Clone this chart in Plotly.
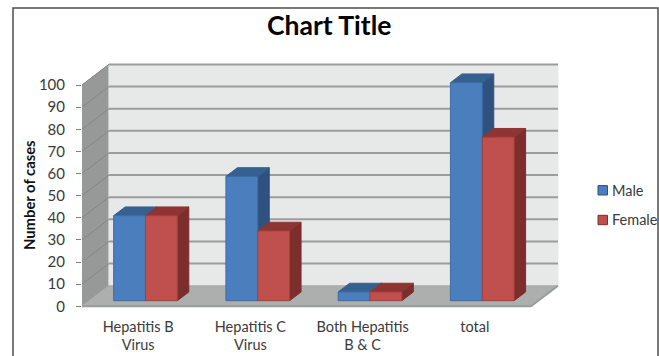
import plotly.graph_objects as go

# Case counts by infection group
categories = ["Hepatitis B<br>Virus", "Hepatitis C<br>Virus", "Both Hepatitis<br>B & C", "total"]
male = [39, 57, 4, 100]
female = [39, 32, 4, 75]
y_ticks = [0, 10, 20, 30, 40, 50, 60, 70, 80, 90, 100]

W, H = 659, 356
PL, PR, PT, PB = 82, 560, 60, 316          # plot area in pixels
FONT = "Lato"
TEXT = "#3a3a3a"

# Oblique projection: depth of the room and of each bar, in axis units
ROOM_DX, ROOM_DY = 0.24, 9.3
BAR_DX, BAR_DY = 0.1024, 4.0
BAR_W, BAR_START = 0.2835, -0.218

X_RANGE = [-0.5, 3.758]
Y_RANGE = [-4.38, 111.3]
Y_BAR_RANGE = [-7.02, 110.4]


def solid(xs, ys, fill, yaxis="y", line=None):
    return go.Scatter(x=xs, y=ys, yaxis=yaxis, mode="lines", fill="toself", fillcolor=fill,
                      line=dict(color=line or fill, width=1), hoverinfo="skip", showlegend=False)


def strokes(segments, color, width):
    xs, ys = [], []
    for (x0, y0), (x1, y1) in segments:
        xs += [x0, x1, None]
        ys += [y0, y1, None]
    return go.Scatter(x=xs, y=ys, mode="lines", line=dict(color=color, width=width),
                      hoverinfo="skip", showlegend=False)


def depth_faces(values, left, side_col, top_col, yaxis):
    """Top and right-hand faces of one series, extruded from its front face."""
    faces = []
    for i, v in enumerate(values):
        x0 = i + left
        x1 = x0 + BAR_W
        faces.append(solid([x1, x1 + BAR_DX, x1 + BAR_DX, x1, x1],
                           [0, BAR_DY, v + BAR_DY, v, 0], side_col, yaxis))
        faces.append(solid([x0, x1, x1 + BAR_DX, x0 + BAR_DX, x0],
                           [v, v, v + BAR_DY, v + BAR_DY, v], top_col, yaxis))
    return faces


x_left, x_right = X_RANGE[0], 3.5
fig = go.Figure()

# Room: side wall, back wall and floor
fig.add_trace(solid([x_left, x_left + ROOM_DX, x_left + ROOM_DX, x_left, x_left],
                    [0, ROOM_DY, 100 + ROOM_DY, 100, 0], "#979898"))
fig.add_trace(solid([x_left + ROOM_DX, x_right + ROOM_DX, x_right + ROOM_DX, x_left + ROOM_DX, x_left + ROOM_DX],
                    [ROOM_DY, ROOM_DY, 100 + ROOM_DY, 100 + ROOM_DY, ROOM_DY], "#e7e9e9"))
fig.add_trace(solid([x_left, x_right, x_right + ROOM_DX, x_left + ROOM_DX, x_left],
                    [0, 0, ROOM_DY, ROOM_DY, 0], "#adaeae"))

# Gridlines across the back wall and down the side wall
fig.add_trace(strokes([((x_left + ROOM_DX, v + ROOM_DY), (x_right + ROOM_DX, v + ROOM_DY))
                       for v in y_ticks[1:]], "#9b9d9d", 2))
fig.add_trace(strokes([((x_left, v), (x_left + ROOM_DX, v + ROOM_DY)) for v in y_ticks[1:]], "#858686", 1))
fig.add_trace(strokes([((x_left, 0), (x_right, 0)), ((x_right, 0), (x_right + ROOM_DX, ROOM_DY))], "#9a9b9b", 2))

# Stacking order: male depth faces, male fronts, female depth faces, female fronts
fig.add_traces(depth_faces(male, BAR_START, "#2f5180", "#36608f", "y2"))
xs = list(range(len(categories)))
fig.add_trace(go.Bar(x=xs, y=male, yaxis="y3", name="Male", offset=BAR_START, width=BAR_W,
                     marker=dict(color="#4b7ebd", line=dict(color="#3d6ca5", width=1)), showlegend=False))
fig.add_traces(depth_faces(female, BAR_START + BAR_W, "#7c2e2c", "#8e3432", "y3"))
fig.add_trace(go.Bar(x=xs, y=female, yaxis="y4", name="Female", offset=BAR_START + BAR_W, width=BAR_W,
                     marker=dict(color="#c0504d", line=dict(color="#a5403d", width=1)), showlegend=False))

plot_w, plot_h = PR - PL, PB - PT
px = lambda v: (v - PL) / plot_w
py = lambda v: (PB - v) / plot_h

shapes = [dict(type="rect", xref="paper", yref="paper", x0=px(13), x1=px(658), y0=py(368), y1=py(8),
               line=dict(color="#4d4d4d", width=1.5), layer="below")]
annotations = []
# Key for the two series
for label, colour, edge, cy, ty in [("Male", "#4b7ebd", "#2f5180", 190.3, 190),
                                    ("Female", "#c0504d", "#7c2e2c", 220, 219)]:
    shapes.append(dict(type="rect", xref="paper", yref="paper", x0=px(598), x1=px(607.5), y0=py(cy + 4.7), y1=py(cy - 4.7),
                       fillcolor=colour, line=dict(color=edge, width=1)))
    annotations.append(dict(text=label, xref="paper", yref="paper", x=px(610), y=py(ty), xanchor="left",
                            yanchor="middle", showarrow=False, font=dict(family=FONT, size=14.5, color=TEXT)))
annotations.append(dict(text="<b>Number of cases</b>", xref="paper", yref="paper", x=px(29), y=py(195),
                        xanchor="center", yanchor="middle", textangle=-90, showarrow=False,
                        font=dict(family=FONT, size=14.8, color="#111111")))
annotations.append(dict(text="<b>Chart Title</b>", xref="paper", yref="paper", x=px(329), y=py(25),
                        xanchor="center", yanchor="middle", showarrow=False,
                        font=dict(family=FONT, size=26.5, color="#000000")))

hidden = dict(overlaying="y", visible=False, range=Y_BAR_RANGE, fixedrange=True)
fig.update_layout(
    width=W, height=H, autosize=False,
    margin=dict(l=PL, r=W - PR, t=PT, b=H - PB, pad=0),
    paper_bgcolor="white", plot_bgcolor="rgba(0,0,0,0)",
    showlegend=False, shapes=shapes, annotations=annotations,
    xaxis=dict(range=X_RANGE, tickvals=xs, ticktext=categories, showgrid=False, zeroline=False,
               showline=False, ticks="", automargin=False,
               tickfont=dict(family=FONT, size=14.5, color=TEXT)),
    yaxis=dict(range=Y_RANGE, tickvals=y_ticks, showgrid=False, zeroline=False, showline=False,
               ticks="outside", ticklen=5, tickcolor="#808080", tickwidth=1, ticklabelstandoff=8,
               automargin=False, tickfont=dict(family=FONT, size=15, color=TEXT)),
    yaxis2=hidden,
    yaxis3=hidden,
    yaxis4=hidden,
)

fig.write_html("out.html", config=dict(displayModeBar=False))
